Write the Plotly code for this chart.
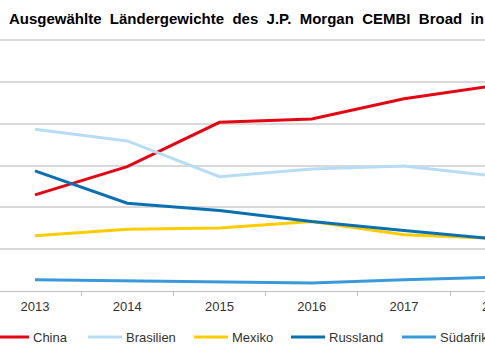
import plotly.graph_objects as go

years = ["2013", "2014", "2015", "2016", "2017", "2018"]
series_names = ["China", "Brasilien", "Mexiko", "Russland", "Südafrika"]
china = [4.60, 5.95, 8.07, 8.23, 9.20, 9.84]
brasilien = [7.74, 7.18, 5.47, 5.84, 5.98, 5.49]
mexiko = [2.64, 2.96, 3.01, 3.32, 2.69, 2.51]
russland = [5.75, 4.20, 3.85, 3.32, 2.89, 2.48]
suedafrika = [0.54, 0.49, 0.46, 0.38, 0.54, 0.66]
y_ticks = [0, 2, 4, 6, 8, 10, 12]
title_text = "Ausgewählte  Ländergewichte  des  J.P.  Morgan  CEMBI  Broad  in"

colors = ["#E30613", "#B7DDF4", "#FFCC00", "#0A70B0", "#3A9AD9"]
values = [china, brasilien, mexiko, russland, suedafrika]

W, H = 485, 360
T, B = 36, 69
plot_h = H - T - B
x_range = [-0.3794, 4.878]

fig = go.Figure()
for name, vals, col in zip(series_names, values, colors):
    fig.add_trace(go.Scatter(x=years, y=vals, mode="lines", name=name,
                             line=dict(color=col, width=3), hoverinfo="skip"))

fig.update_layout(
    width=W, height=H,
    margin=dict(l=0, r=0, t=T, b=B),
    paper_bgcolor="white", plot_bgcolor="white",
    showlegend=False,
    font=dict(family="Liberation Sans, Arial, sans-serif", size=13, color="#333333"),
)
fig.update_xaxes(type="category", range=x_range, tickson="boundaries",
                 ticks="outside", ticklen=4, tickcolor="#bfbfbf", tickwidth=1,
                 showline=True, linecolor="#bfbfbf", linewidth=1, showgrid=False,
                 ticklabelstandoff=3,
                 tickfont=dict(size=13, color="#333333"))
fig.update_yaxes(range=[0, 12.2], tickvals=y_ticks, showticklabels=False,
                 showgrid=True, gridcolor="#d9d9d9", gridwidth=1.5,
                 zeroline=False, showline=False)

# label of the last category, which lies beyond the visible range
last_idx = len(years) - 1
fig.add_annotation(text=years[last_idx], xref="paper", yref="paper",
                   x=(last_idx - x_range[0]) / (x_range[1] - x_range[0]),
                   y=(H - B - 306.5) / plot_h, xanchor="center", yanchor="middle",
                   showarrow=False, font=dict(size=13, color="#333333"))

# title
fig.add_annotation(text="<b>" + title_text.replace(" ", "\u00a0") + "</b>",
                   xref="paper", yref="paper", x=7 / W, y=(H - B - 18) / plot_h,
                   xanchor="left", yanchor="middle", showarrow=False,
                   font=dict(size=15, color="#000000"))

# manual legend
leg_y = (H - B - 337) / plot_h
line_ends = [29, 122, 228, 325, 436]
for name, col, xe in zip(series_names, colors, line_ends):
    fig.add_shape(type="line", xref="paper", yref="paper",
                  x0=(xe - 34) / W, x1=xe / W, y0=leg_y, y1=leg_y,
                  line=dict(color=col, width=3))
    fig.add_annotation(text=name, xref="paper", yref="paper",
                       x=(xe + 2) / W, y=leg_y, xanchor="left", yanchor="middle",
                       showarrow=False, font=dict(size=13, color="#333333"))

fig.write_html("out.html", config={"displayModeBar": False},
               post_script="document.body.style.margin='0';document.body.style.overflow='hidden';")
